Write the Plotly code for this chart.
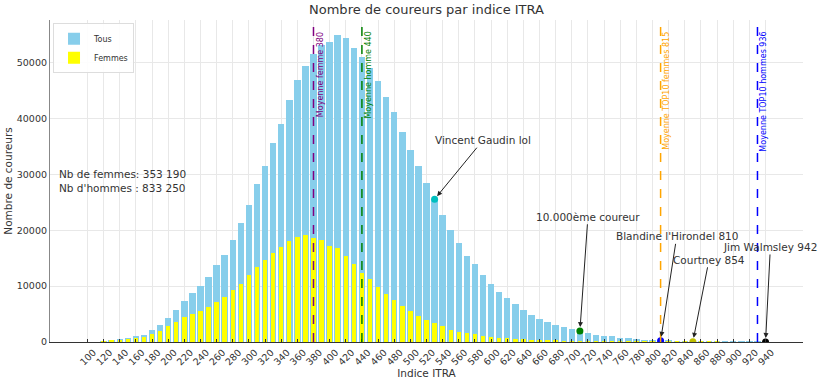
import plotly.graph_objects as go

# ---------------- data ----------------
bins = list(range(100, 950, 10))
tous = [0, 0, 100, 350, 470, 700, 1070, 1300, 2200, 3100,
        4340, 5770, 7370, 8750, 10050, 11700, 13860, 15590, 18270, 21250,
        24580, 28210, 31540, 35530, 38920, 43270, 46840, 49390, 51540, 53140,
        53620, 54870, 54460, 52680, 50950, 49040, 46660, 43800, 41130, 37550,
        34340, 31540, 28500, 25540, 22730, 20050, 17790, 15410, 13980, 11960,
        10410, 8930, 7790, 6790, 5770, 4880, 4160, 3570, 3090, 2610,
        2300, 1950, 1600, 1330, 1120, 1000, 720, 700, 540, 420,
        300, 240, 180, 120, 70, 40, 20, 15, 10, 8,
        5, 3, 2, 2, 1]
femmes = [0, 0, 30, 280, 360, 530, 700, 900, 1360, 2020,
          2790, 3630, 4460, 4930, 5470, 6250, 7200, 8140, 9300, 10410,
          11900, 13390, 14700, 16000, 17070, 18140, 18860, 19100, 18570, 18270,
          17200, 16840, 15360, 13980, 12430, 11300, 9880, 8630, 7550, 6360,
          5540, 4700, 3980, 3390, 2790, 2200, 1840, 1600, 1360, 1070,
          890, 770, 650, 530, 470, 400, 300, 250, 200, 150,
          110, 80, 60, 45, 35, 25, 20, 15, 10, 8,
          6, 5, 4, 3, 2, 2, 1, 1, 1, 0,
          0, 0, 0, 0, 0]

x_ticks = list(range(100, 960, 20))
y_ticks = [0, 10000, 20000, 30000, 40000, 50000]

# mean lines: label value, drawn at its 10-wide bin
mean_labels = ["Moyenne femme 380", "Moyenne homme 440",
               "Moyenne TOP10 femmes 815", "Moyenne TOP10 hommes 936"]
mean_values = [380, 440, 815, 936]
mean_colors = ["#800080", "#008000", "#FFA500", "#0000FF"]

# highlighted runners (bin of their index)
runner_labels = ["Vincent Gaudin lol", "10.000ème coureur",
                 "Blandine l'Hirondel 810", "Courtney 854", "Jim Walmsley 942"]
runner_bins = [530, 710, 810, 850, 940]
runner_colors = ["#00BFBF", "#008000", "#0000FF", "#BFBF00", "#000000"]
runner_text_x = [590, 720, 830, 870, 946]
runner_text_y = [36100, 22400, 18900, 14700, 17000]

summary_text = "Nb de femmes: 353 190<br>Nb d'hommes : 833 250"

FONT = "DejaVu Sans"
TXT = "#333333"

fig = go.Figure()
fig.add_trace(go.Bar(x=bins, y=tous, width=8, name="Tous",
                     marker=dict(color="#87CEEB", line=dict(width=0))))
fig.add_trace(go.Bar(x=bins, y=femmes, width=5.5, name="Femmes",
                     marker=dict(color="#FFFF00", line=dict(width=0))))

# mean lines
for lab, v, c in zip(mean_labels, mean_values, mean_colors):
    pos = (v // 10) * 10
    fig.add_shape(type="line", xref="x", yref="y domain", x0=pos, x1=pos,
                  y0=0, y1=1, line=dict(color=c, width=1.5, dash="dash"))
    fig.add_annotation(x=pos, xref="x", y=0.97, yref="y domain",
                       text=lab, textangle=-90, showarrow=False,
                       xanchor="left", yanchor="top", xshift=0,
                       font=dict(family=FONT, size=8, color=c))

# runner points
ry = [tous[bins.index(b)] for b in runner_bins]
fig.add_trace(go.Scatter(x=runner_bins, y=ry, mode="markers", showlegend=False,
                         marker=dict(color=runner_colors, size=7)))
for lab, b, yv, tx, ty in zip(runner_labels, runner_bins, ry, runner_text_x, runner_text_y):
    fig.add_annotation(x=b, y=yv, xref="x", yref="y", ax=tx, ay=ty,
                       axref="x", ayref="y", text=lab, showarrow=True,
                       arrowhead=2, arrowsize=1, arrowwidth=1, arrowcolor="#222222",
                       standoff=4, font=dict(family=FONT, size=10.5, color=TXT))

fig.add_annotation(x=0.009, xref="x domain", y=0.5, yref="y domain",
                   text=summary_text, showarrow=False, align="left",
                   xanchor="left", yanchor="middle",
                   font=dict(family=FONT, size=10.5, color=TXT))

fig.update_layout(
    width=820, height=382,
    margin=dict(l=50, r=17, t=20, b=40, autoexpand=False),
    paper_bgcolor="white", plot_bgcolor="white",
    barmode="overlay", bargap=0,
    font=dict(family=FONT, color=TXT, size=10),
    title=dict(text="Nombre de coureurs par indice ITRA", x=0.5, xref="paper",
               xanchor="center", y=0.988, yanchor="top",
               font=dict(family=FONT, size=13, color=TXT)),
    legend=dict(x=0.004, y=0.99, xanchor="left", yanchor="top",
                bgcolor="rgba(255,255,255,0.9)", bordercolor="#dddddd", borderwidth=1,
                font=dict(family=FONT, size=8, color=TXT),
                itemwidth=30, tracegroupgap=0),
    showlegend=True,
)
fig.update_xaxes(range=[53.6, 986.4], tickmode="array", tickvals=x_ticks,
                 ticktext=[str(t) for t in x_ticks], tickangle=-45,
                 ticklabelshift=6,
                 tickfont=dict(family=FONT, size=9.5, color=TXT),
                 showgrid=True, gridcolor="#e8e8e8", gridwidth=0.8,
                 showline=True, linecolor="#333333", linewidth=1.2,
                 ticks="inside", ticklen=3, tickcolor="#333333", zeroline=False,
                 automargin=False,
                 title=dict(text="Indice ITRA", standoff=2,
                            font=dict(family=FONT, size=10.5, color=TXT)))
fig.update_yaxes(range=[0, 57600], tickmode="array", tickvals=y_ticks,
                 ticktext=[str(t) for t in y_ticks],
                 tickfont=dict(family=FONT, size=9.5, color=TXT),
                 showgrid=True, gridcolor="#e8e8e8", gridwidth=0.8,
                 showline=True, linecolor="#888888", linewidth=1.2,
                 ticks="", zeroline=False, automargin=False,
                 title=dict(text="Nombre de coureurs", standoff=2,
                            font=dict(family=FONT, size=10.5, color=TXT)))

fig.write_html("out.html", config={"displayModeBar": False},
               post_script="document.body.style.margin='0';document.body.style.overflow='hidden';")
